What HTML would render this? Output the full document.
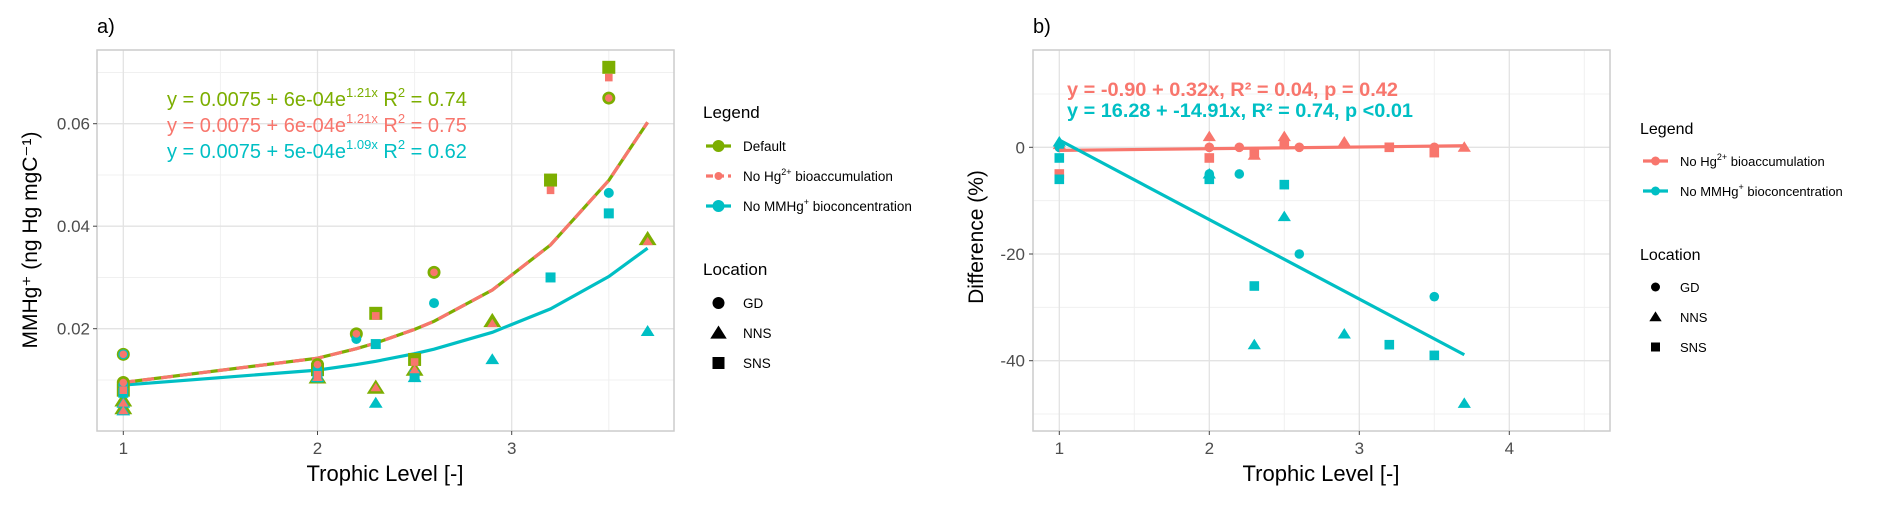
<!DOCTYPE html>
<html><head><meta charset="utf-8">
<style>
html,body{margin:0;padding:0;background:#fff;}
svg{display:block;font-family:"Liberation Sans",Arial,sans-serif;}
</style></head>
<body>
<svg id="chart" width="1892" height="506" viewBox="0 0 1892 506" xmlns="http://www.w3.org/2000/svg">
<g id="pa"></g>
<g id="pb"></g>
</svg>
<script>
// ---- Panel a data ----
const aDefaultX = [1,1,1,1,1,2,2,2,2.2,2.3,2.3,2.5,2.5,2.6,2.9,3.2,3.5,3.5,3.7];
const aDefaultY = [0.015,0.0095,0.008,0.006,0.0045,0.013,0.0105,0.012,0.019,0.023,0.0085,0.014,0.012,0.031,0.0215,0.049,0.071,0.065,0.0375];
const aDefaultS = ['c','c','s','t','t','c','t','s','c','s','t','s','t','c','t','s','s','c','t'];
const aNoHgX = [1,1,1,1,1,2,2,2,2.2,2.3,2.3,2.5,2.5,2.6,2.9,3.2,3.5,3.5,3.7];
const aNoHgY = [0.015,0.0095,0.008,0.0055,0.004,0.013,0.0105,0.011,0.019,0.0225,0.0085,0.0135,0.012,0.031,0.021,0.047,0.069,0.065,0.037];
const aNoHgS = ['c','c','s','t','t','c','t','s','c','s','t','s','t','c','t','s','s','c','t'];
const aNoMMX = [1,1,1,1,1,2,2,2,2.2,2.3,2.3,2.5,2.5,2.6,2.9,3.2,3.5,3.5,3.7];
const aNoMMY = [0.015,0.009,0.0075,0.0055,0.004,0.012,0.0105,0.0105,0.018,0.017,0.0055,0.011,0.0105,0.025,0.014,0.030,0.0425,0.0465,0.0195];
const aNoMMS = ['c','c','s','t','t','c','t','s','c','s','t','s','t','c','t','s','s','c','t'];
const aFitX = [1,2,2.2,2.3,2.5,2.6,2.9,3.2,3.5,3.7];
const aFitA = [0.0075,0.0075,0.0075];
const aFitB = [6e-4,6e-4,5e-4];
const aFitK = [1.21,1.21,1.09];
const aYTicks = [0.02,0.04,0.06];
const aYTickLabels = ['0.02','0.04','0.06'];
const aXTicks = [1,2,3];
// ---- Panel b data ----
const bNoHgX = [1,1,1,2,2,2,2.2,2.3,2.3,2.5,2.5,2.6,2.9,3.2,3.5,3.5,3.7];
const bNoHgY = [0,-5,0.5,2,0,-2,0,-1,-1.5,2,0.5,0,1,0,0,-1,0];
const bNoHgS = ['c','s','t','t','c','s','c','s','t','t','s','c','t','s','c','s','t'];
const bNoMMX = [1,1,1,1,2,2,2,2.2,2.3,2.3,2.5,2.5,2.6,2.9,3.2,3.5,3.5,3.7];
const bNoMMY = [1,0,-2,-6,-5,-5,-6,-5,-26,-37,-7,-13,-20,-35,-37,-28,-39,-48];
const bNoMMS = ['t','c','s','s','c','t','s','c','s','t','s','t','c','t','s','c','s','t'];
const bIntercept = [-0.90,16.28];
const bSlope = [0.32,-14.91];
const bYTicks = [0,-20,-40];
const bYTickLabels = ['0','-20','-40'];
const bXTicks = [1,2,3,4];

const NS='http://www.w3.org/2000/svg';
const G='#7CAE00',P='#F8766D',C='#00BFC4';
function el(parent,tag,attrs,text){const e=document.createElementNS(NS,tag);for(const k in attrs)e.setAttribute(k,attrs[k]);if(text!==undefined)e.textContent=text;parent.appendChild(e);return e;}
function scale(d0,d1,r0,r1){return v=>r0+(v-d0)*(r1-r0)/(d1-d0);}
function marker(g,shape,x,y,size,fill,stroke,sw){
  let m;
  if(shape==='c'){m=el(g,'circle',{cx:x,cy:y,r:size});}
  else if(shape==='s'){m=el(g,'rect',{x:x-size,y:y-size,width:2*size,height:2*size});}
  else {const h=size*1.25;m=el(g,'polygon',{points:`${x},${y-h} ${x-h*1.1},${y+h*0.75} ${x+h*1.1},${y+h*0.75}`});}
  m.setAttribute('fill',fill);if(stroke){m.setAttribute('stroke',stroke);m.setAttribute('stroke-width',sw);}
  
  
  return m;
}
function frame(g,L,T,R,B,xs,ys,xMaj,xMin,yMaj,yMin){
  for(const v of yMin){const y=ys(v);el(g,'line',{x1:L,x2:R,y1:y,y2:y,stroke:'#f0f0f0','stroke-width':1});}
  for(const v of xMin){const x=xs(v);el(g,'line',{x1:x,x2:x,y1:T,y2:B,stroke:'#f0f0f0','stroke-width':1});}
  for(const v of yMaj){const y=ys(v);el(g,'line',{x1:L,x2:R,y1:y,y2:y,stroke:'#e3e3e3','stroke-width':1.3});}
  for(const v of xMaj){const x=xs(v);el(g,'line',{x1:x,x2:x,y1:T,y2:B,stroke:'#e3e3e3','stroke-width':1.3});}
  const r=el(g,'rect',{x:L,y:T,width:R-L,height:B-T,fill:'none',stroke:'#cccccc','stroke-width':1.5});
  
}

// ================= Panel a =================
(function(){
  const g=document.getElementById('pa');
  const L=97,T=50,R=674,B=431;
  const xs=scale(1,3,123.3,511.7), ys=scale(0,0.06,431.2,123.7);
  frame(g,L,T,R,B,xs,ys,aXTicks,[1.5,2.5,3.5],aYTicks,[0.01,0.03,0.05,0.07]);
  aYTicks.forEach((v,i)=>{const y=ys(v);el(g,'line',{x1:L-4,x2:L,y1:y,y2:y,stroke:'#444'});
    const t=el(g,'text',{x:L-7,y:y+6,'text-anchor':'end','font-size':17,fill:'#4d4d4d'},aYTickLabels[i]);
    });
  aXTicks.forEach(v=>{const x=xs(v);el(g,'line',{x1:x,x2:x,y1:B,y2:B+4,stroke:'#444'});
    const t=el(g,'text',{x:x,y:B+23,'text-anchor':'middle','font-size':17,fill:'#4d4d4d'},String(v));
    });
  const cols=[G,P,C];
  const fitOrder=[2,0,1];
  fitOrder.forEach(i=>{
    const d=aFitX.map((x,j)=>(j?'L':'M')+xs(x).toFixed(1)+','+ys(aFitA[i]+aFitB[i]*Math.exp(aFitK[i]*x)).toFixed(1)).join(' ');
    const p=el(g,'path',{d:d,fill:'none',stroke:cols[i],'stroke-width':3.2});
    if(i===1)p.setAttribute('stroke-dasharray','12,7');
    
  });
  aDefaultX.forEach((x,i)=>marker(g,aDefaultS[i],xs(x),ys(aDefaultY[i]),6.5,G));
  aNoMMX.forEach((x,i)=>marker(g,aNoMMS[i],xs(x),ys(aNoMMY[i]),5,C));
  aNoHgX.forEach((x,i)=>marker(g,aNoHgS[i],xs(x),ys(aNoHgY[i]),3.8,P));
  const eqs=[['0.0075 + 6e-04e','1.21x','0.74',G],['0.0075 + 6e-04e','1.21x','0.75',P],['0.0075 + 5e-04e','1.09x','0.62',C]];
  eqs.forEach((e,i)=>{
    const t=el(g,'text',{x:167,y:106+i*26,'font-size':20,fill:e[3]});
    
    el(t,'tspan',{},'y = '+e[0]);
    el(t,'tspan',{'font-size':13,dy:-9},e[1]);
    el(t,'tspan',{dy:9},' R');
    el(t,'tspan',{'font-size':13,dy:-9},'2');
    el(t,'tspan',{dy:9},' = '+e[2]);
  });
  const t1=el(g,'text',{x:97,y:33,'font-size':20,fill:'#000'},'a)');
  const xt=el(g,'text',{x:385,y:481,'text-anchor':'middle','font-size':22,fill:'#000'},'Trophic Level [-]');
  
  const yt=el(g,'text',{x:0,y:0,'text-anchor':'middle','font-size':21,fill:'#000',transform:'translate(37,240) rotate(-90)'},'MMHg⁺ (ng Hg mgC⁻¹)');
  
  const lg=el(g,'g',{});
  el(lg,'text',{x:703,y:118,'font-size':17},'Legend');
  const items=[['Default',G,false,6],['No Hg',P,true,4],['No MMHg',C,false,6]];
  items.forEach((it,i)=>{
    const y=146+i*30;
    const ln=el(lg,'line',{x1:706,x2:731,y1:y,y2:y,stroke:it[1],'stroke-width':3.2});
    if(it[2])ln.setAttribute('stroke-dasharray','7,4');
    el(lg,'circle',{cx:718.5,cy:y,r:it[3],fill:it[1]});
    const tx=el(lg,'text',{x:743,y:y+5,'font-size':13.5});
    if(i===0)tx.textContent='Default';
    else if(i===1){el(tx,'tspan',{},'No Hg');el(tx,'tspan',{'font-size':9,dy:-6},'2+');el(tx,'tspan',{dy:6},' bioaccumulation');}
    else {el(tx,'tspan',{},'No MMHg');el(tx,'tspan',{'font-size':9,dy:-6},'+');el(tx,'tspan',{dy:6},' bioconcentration');}
    
  });
  el(lg,'text',{x:703,y:275,'font-size':17},'Location');
  ['GD','NNS','SNS'].forEach((s,i)=>{const y=303+i*30;marker(lg,['c','t','s'][i],718.5,y,6,'#000');
    el(lg,'text',{x:743,y:y+5,'font-size':13.5},s);});
})();

// ================= Panel b =================
(function(){
  const g=document.getElementById('pb');
  const L=1033,T=50,R=1610,B=431;
  const xs=scale(1,4,1059.3,1509.3), ys=scale(0,-40,147.3,360.7);
  frame(g,L,T,R,B,xs,ys,bXTicks,[1.5,2.5,3.5,4.5],bYTicks,[10,-10,-30,-50]);
  bYTicks.forEach((v,i)=>{const y=ys(v);el(g,'line',{x1:L-4,x2:L,y1:y,y2:y,stroke:'#444'});
    const t=el(g,'text',{x:L-8,y:y+6,'text-anchor':'end','font-size':17,fill:'#4d4d4d'},bYTickLabels[i]);
    });
  bXTicks.forEach(v=>{const x=xs(v);el(g,'line',{x1:x,x2:x,y1:B,y2:B+4,stroke:'#444'});
    const t=el(g,'text',{x:x,y:B+23,'text-anchor':'middle','font-size':17,fill:'#4d4d4d'},String(v));
    });
  bNoHgX.forEach((x,i)=>marker(g,bNoHgS[i],xs(x),ys(bNoHgY[i]),4.8,P));
  bNoMMX.forEach((x,i)=>marker(g,bNoMMS[i],xs(x),ys(bNoMMY[i]),4.8,C));
  const cols=[P,C];
  [0,1].forEach(i=>{
    const x0=1,x1=3.7;
    const l=el(g,'line',{x1:xs(x0),y1:ys(bIntercept[i]+bSlope[i]*x0),x2:xs(x1),y2:ys(bIntercept[i]+bSlope[i]*x1),stroke:cols[i],'stroke-width':3.2});
    
  });
  const eq=['y = -0.90 + 0.32x, R² = 0.04, p = 0.42','y = 16.28 + -14.91x, R² = 0.74, p <0.01'];
  eq.forEach((s,i)=>{const t=el(g,'text',{x:1067,y:96+i*21,'font-size':19,'font-weight':'bold',fill:cols[i],textLength:i?346:331,lengthAdjust:'spacingAndGlyphs'},s);
    });
  const t1=el(g,'text',{x:1033,y:33,'font-size':20},'b)');
  const xt=el(g,'text',{x:1321,y:481,'text-anchor':'middle','font-size':22},'Trophic Level [-]');
  
  const yt=el(g,'text',{x:0,y:0,'text-anchor':'middle','font-size':21,transform:'translate(983,237) rotate(-90)'},'Difference (%)');
  
  const lg=el(g,'g',{});
  el(lg,'text',{x:1640,y:134,'font-size':16},'Legend');
  [[P,'No Hg','2+',' bioaccumulation'],[C,'No MMHg','+',' bioconcentration']].forEach((it,i)=>{
    const y=161+i*30;
    el(lg,'line',{x1:1643,x2:1668,y1:y,y2:y,stroke:it[0],'stroke-width':3.2});
    el(lg,'circle',{cx:1655.5,cy:y,r:4.5,fill:it[0]});
    const tx=el(lg,'text',{x:1680,y:y+5,'font-size':13});
    el(tx,'tspan',{},it[1]);el(tx,'tspan',{'font-size':9,dy:-6},it[2]);el(tx,'tspan',{dy:6},it[3]);
    
  });
  el(lg,'text',{x:1640,y:260,'font-size':16},'Location');
  ['GD','NNS','SNS'].forEach((s,i)=>{const y=287+i*30;marker(lg,['c','t','s'][i],1655.5,y,4.5,'#000');
    el(lg,'text',{x:1680,y:y+5,'font-size':13},s);});
})();
</script>
</body></html>
